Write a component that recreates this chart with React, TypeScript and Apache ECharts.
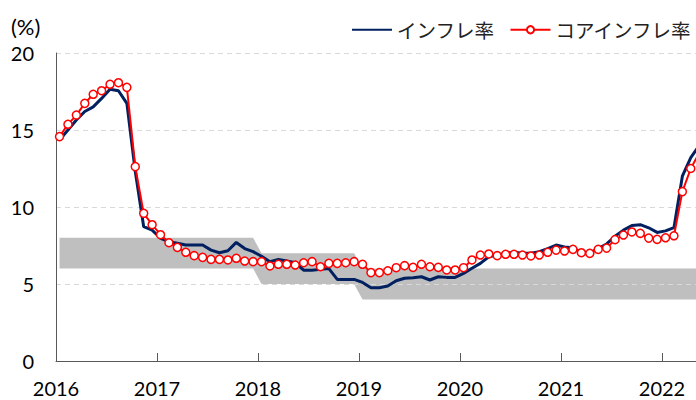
import React, { useEffect, useRef } from "react";
import * as echarts from "echarts";

const startYear = 2016;
const years = [2016, 2017, 2018, 2019, 2020, 2021, 2022];

// Headline inflation, monthly from Jan 2016
const headline = [
  14.35, 15.0, 15.65, 16.2, 16.5, 17.05, 17.64, 17.55, 16.73, 12.3, 8.72, 8.5,
  7.97, 7.75, 7.64, 7.53, 7.53, 7.53, 7.2, 7.03, 7.16, 7.7, 7.3, 7.1,
  6.8, 6.45, 6.6, 6.5, 6.38, 5.9, 5.9, 5.95, 6.0, 5.3, 5.3, 5.3,
  5.1, 4.76, 4.76, 4.87, 5.21, 5.37, 5.41, 5.47, 5.26, 5.47, 5.43, 5.43,
  5.69, 6.02, 6.34, 6.77, 6.88, 7.0, 7.06, 7.0, 7.0, 7.1, 7.3, 7.53,
  7.4, 7.35, 7.03, 7.03, 7.3, 7.6, 8.1, 8.5, 8.8, 8.85, 8.65, 8.35,
  8.45, 8.66, 12.0, 13.2, 14.0,
];

// Core inflation, monthly from Jan 2016
const core = [
  14.57, 15.37, 15.97, 16.73, 17.32, 17.55, 17.97, 18.07, 17.77, 12.62, 9.59, 8.85,
  8.2, 7.68, 7.38, 7.06, 6.84, 6.73, 6.6, 6.6, 6.56, 6.67, 6.49, 6.45,
  6.45, 6.17, 6.28, 6.28, 6.23, 6.38, 6.45, 6.12, 6.34, 6.34, 6.38, 6.45,
  6.28, 5.74, 5.74, 5.86, 6.06, 6.19, 6.08, 6.28, 6.12, 6.08, 5.91, 5.91,
  6.06, 6.56, 6.88, 6.95, 6.84, 6.93, 6.93, 6.88, 6.82, 6.88, 7.06, 7.2,
  7.14, 7.25, 7.03, 6.99, 7.25, 7.33, 7.88, 8.18, 8.38, 8.29, 7.98, 7.9,
  8.0, 8.13, 11.0, 12.5, 13.5,
];

// Inflation target corridor (lower bound per year, width)
const targetLowerByYear = [6, 6, 5, 4, 4, 4, 4];
const targetWidth = 2;

const yTicks = [0, 5, 10, 15, 20];

const monthX = (i: number) => startYear + i / 12 + 0.035;

export default function App() {
  const ref = useRef<HTMLDivElement>(null);
  useEffect(() => {
    if (!ref.current) return;
    const chart = echarts.init(ref.current, undefined, { renderer: "svg" });
    const n = headline.length;
    const hData = headline.map((v, i) => [monthX(i), v]);
    const cData = core.map((v, i) => [monthX(i), v]);
    const bandLow = Array.from({ length: n }, (_, i) => [
      monthX(i),
      targetLowerByYear[Math.floor(i / 12)],
    ]);
    const bandHigh = bandLow.map(([x, lo]) => [x, lo + targetWidth]);
    const numFont = "Lato";
    chart.setOption({
      animation: false,
      grid: { left: 56, right: 0, top: 53, bottom: 39, containLabel: false },
      legend: {
        data: [
          { name: "インフレ率", itemStyle: { opacity: 0 } },
          { name: "コアインフレ率" },
        ],
        right: -1,
        top: 15,
        itemWidth: 40,
        itemHeight: 9,
        itemGap: 15,
        textStyle: {
          fontSize: 19.5,
          color: "#222",
          fontFamily: "Noto Sans CJK JP",
        },
      },
      graphic: [
        {
          type: "text",
          left: 11,
          top: 15,
          style: { text: "(%)", fontSize: 22, fill: "#000", fontFamily: numFont },
        },
      ],
      xAxis: {
        type: "value",
        min: startYear,
        max: startYear + 640 / 101,
        interval: 1,
        axisLine: { show: true, onZero: false, lineStyle: { color: "#595959", width: 1 } },
        axisTick: { show: true, inside: true, length: 8, lineStyle: { color: "#595959" } },
        splitLine: { show: false },
        axisLabel: {
          showMaxLabel: false,
          margin: 17,
          fontSize: 20,
          color: "#000",
          fontFamily: numFont,
          formatter: (v: number) => (Number.isInteger(v) && years.includes(v) ? String(v) : ""),
        },
      },
      yAxis: {
        type: "value",
        min: yTicks[0],
        max: yTicks[yTicks.length - 1],
        interval: 5,
        axisLine: { show: true, lineStyle: { color: "#595959", width: 1 } },
        axisTick: { show: false },
        splitLine: { show: true, lineStyle: { color: "#d9d9d9", type: [5, 4], width: 1 } },
        axisLabel: { margin: 22, fontSize: 20, color: "#000", fontFamily: numFont },
      },
      series: [
        {
          type: "custom",
          name: "band",
          data: [[startYear, 0]],
          silent: true,
          z: -1,
          clip: true,
          renderItem: (params: any, api: any) => {
            const top = bandHigh.map((p) => api.coord(p));
            const bottom = bandLow.map((p) => api.coord(p)).reverse();
            return {
              type: "polygon",
              shape: { points: top.concat(bottom) },
              style: { fill: "#bfbfbf" },
            };
          },
        },
        {
          type: "line",
          name: "インフレ率",
          data: hData,
          showSymbol: false,
          symbol: "none",
          lineStyle: { color: "#002060", width: 3 },
          itemStyle: { color: "#002060" },
          z: 3,
        },
        {
          type: "line",
          name: "コアインフレ率",
          data: cData,
          symbol: "circle",
          symbolSize: 8,
          showSymbol: true,
          lineStyle: { color: "#ff0000", width: 2 },
          itemStyle: { color: "#ffffff", borderColor: "#ff0000", borderWidth: 1.5 },
          z: 4,
        },
      ],
    });
    return () => chart.dispose();
  }, []);
  return (
    <div
      ref={ref}
      style={{ position: "fixed", left: 0, top: 0, width: 696, height: 400, background: "#fff" }}
    />
  );
}
